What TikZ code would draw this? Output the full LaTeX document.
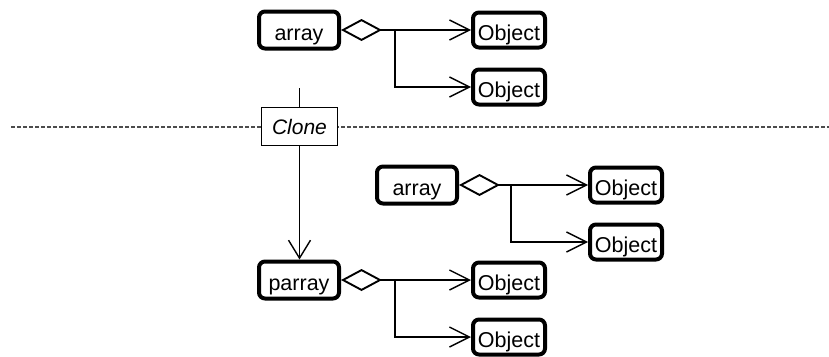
\documentclass[tikz,border=0pt]{standalone}
\usepackage{fontspec}
\setmainfont{Liberation Sans}
\usetikzlibrary{arrows.meta}
\begin{document}
\begin{tikzpicture}[x=1pt,y=-1pt,
  txt/.style={font=\fontsize{21.5}{25}\selectfont, text height=20pt, text depth=0pt},
  cls/.style={txt, draw, line width=4pt, rounded corners=6pt, fill=white, minimum width=80pt, minimum height=37pt, inner sep=0pt},
  obj/.style={txt, draw, line width=4pt, rounded corners=6pt, fill=white, minimum width=72pt, minimum height=35pt, inner sep=0pt},
  clonebox/.style={draw, line width=1.1pt, fill=white, minimum width=76pt, minimum height=38pt, inner sep=0pt, font=\fontsize{21}{25}\selectfont\itshape, text height=16pt, text depth=0pt},
  conn/.style={line width=1.4pt},
  agg/.style={conn, {Diamond[open,length=41pt,width=22pt,line width=1.9pt]}-{Straight Barb[length=20pt,width=20pt]}},
  arr/.style={conn, -{Straight Barb[length=20pt,width=20pt]}},
  sep/.style={line width=1.3pt, draw=black!70, dash pattern=on 4pt off 2pt}
]
\useasboundingbox (0,0) rectangle (829,356);

% separator
\coordinate (dl) at (11,127);
\coordinate (dr) at (829,127);
\draw[sep] (dl) -- (dr);

% top group
\node[cls] (a1) at (299,30) {array};
\node[obj] (o1) at (509,30) {Object};
\node[obj] (o2) at (509,87) {Object};
\coordinate (b1) at (395,30);
\draw[agg] (a1.east) -- (o1.west);
\draw[arr] (b1) |- (o2.west);

% clone
\node[clonebox] (cl) at (299.5,126.5) {Clone};
\coordinate (cs) at (299.5,88);
\draw[conn] (cs) -- (cl.north);

% middle group
\node[cls] (a2) at (417,185) {array};
\node[obj] (o3) at (626,185) {Object};
\node[obj] (o4) at (626,242) {Object};
\coordinate (b2) at (511,185);
\draw[agg] (a2.east) -- (o3.west);
\draw[arr] (b2) |- (o4.west);

% bottom group
\node[cls] (pa) at (299,280) {parray};
\node[obj] (o5) at (509,280) {Object};
\node[obj] (o6) at (509,337) {Object};
\coordinate (b3) at (395,280);
\draw[agg] (pa.east) -- (o5.west);
\draw[arr] (b3) |- (o6.west);

\draw[conn, -{Straight Barb[length=18pt,width=22pt]}] (cl.south) -- (pa.north -| cl.south);
\end{tikzpicture}
\end{document}
